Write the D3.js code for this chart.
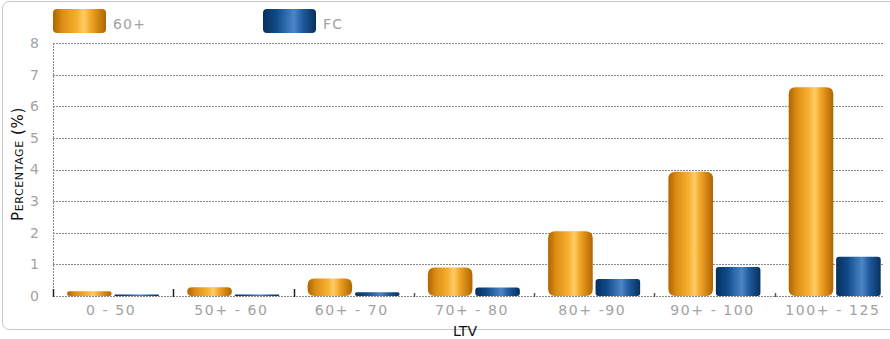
<!DOCTYPE html>
<html>
<head>
<meta charset="utf-8">
<script src="https://cdn.jsdelivr.net/npm/d3@7"></script>
<style>
  html, body { margin: 0; padding: 0; background: #fff; }
  svg { display: block; }
  text { font-family: "DejaVu Sans", Verdana, sans-serif; }
</style>
</head>
<body>
<svg id="chart" width="890" height="339"></svg>
<script>
// LTV buckets and the two series (percentages)
const categories = ["0 - 50", "50+ - 60", "60+ - 70", "70+ - 80", "80+ -90", "90+ - 100", "100+ - 125"];
const seriesNames = ["60+", "FC"];
const values60 = [0.15, 0.28, 0.55, 0.9, 2.05, 3.93, 6.6];
const valuesFC = [0.05, 0.05, 0.12, 0.27, 0.54, 0.92, 1.24];
const yTicks = [0, 1, 2, 3, 4, 5, 6, 7, 8];

const svg = d3.select("#chart");
const plot = { left: 53, right: 895, top: 43, bottom: 296 };
const labelGrey = "#a2a2a2";

// outer frame
svg.append("rect")
  .attr("x", 2.5).attr("y", 1.5)
  .attr("width", 905).attr("height", 328)
  .attr("rx", 7)
  .attr("fill", "#fff").attr("stroke", "#c8c8c8").attr("stroke-width", 1);

// gradients for the cylinder-like bars
const defs = svg.append("defs");
const gOr = defs.append("linearGradient").attr("id", "gradOrange")
  .attr("x1", "0%").attr("x2", "100%").attr("y1", "0%").attr("y2", "0%");
[["0%", "#b06400"], ["18%", "#dc8e14"], ["45%", "#f6b030"], ["58%", "#ffcc66"],
 ["72%", "#f0a424"], ["100%", "#b06400"]].forEach(([o, c]) =>
  gOr.append("stop").attr("offset", o).attr("stop-color", c));
const gBl = defs.append("linearGradient").attr("id", "gradBlue")
  .attr("x1", "0%").attr("x2", "100%").attr("y1", "0%").attr("y2", "0%");
[["0%", "#07305e"], ["25%", "#0f4a88"], ["58%", "#4a86c8"], ["75%", "#1e5a9c"],
 ["100%", "#07305e"]].forEach(([o, c]) =>
  gBl.append("stop").attr("offset", o).attr("stop-color", c));

// scales
const x0 = d3.scaleBand().domain(categories).range([plot.left, plot.right]).paddingInner(0).paddingOuter(0);
const x1 = d3.scaleBand().domain(seriesNames).range([14, 106]).paddingInner(0.06);
const y = d3.scaleLinear().domain([0, 8]).range([plot.bottom, plot.top]);

// gridlines
svg.append("g").selectAll("line").data(yTicks).join("line")
  .attr("x1", plot.left).attr("x2", 884)
  .attr("y1", d => Math.round(y(d)) + 0.5).attr("y2", d => Math.round(y(d)) + 0.5)
  .attr("stroke", "#8a8a8a").attr("stroke-width", 1)
  .attr("stroke-dasharray", "2,1");

// left axis line
svg.append("line")
  .attr("x1", plot.left + 0.5).attr("x2", plot.left + 0.5)
  .attr("y1", plot.top).attr("y2", plot.bottom)
  .attr("stroke", "#8a8a8a").attr("stroke-dasharray", "2,1");

// y tick labels
const yAxis = d3.axisLeft(y).tickValues(yTicks).tickSize(0).tickPadding(14).tickFormat(d3.format("d"));
const yg = svg.append("g").attr("transform", `translate(${plot.left},0)`).call(yAxis);
yg.select(".domain").remove();
yg.selectAll("text").attr("fill", labelGrey).attr("font-size", 14)
  .attr("font-family", "DejaVu Sans Condensed, DejaVu Sans, sans-serif");

// category boundary ticks
const bounds = categories.map(c => x0(c));
svg.append("g").selectAll("line").data(bounds).join("line")
  .attr("x1", d => Math.round(d) + 0.5).attr("x2", d => Math.round(d) + 0.5)
  .attr("y1", (d, i) => i < 3 ? 289 : 293).attr("y2", 297)
  .attr("stroke", (d, i) => i < 3 ? "#222" : "#555").attr("stroke-width", 1.5);

// bars
const rows = categories.map((c, i) => ({ cat: c, vals: [values60[i], valuesFC[i]] }));
function roundedBar(x, yTop, w, h, r) {
  r = Math.min(r, h / 2, w / 2);
  return `M${x},${yTop + r}Q${x},${yTop} ${x + r},${yTop}L${x + w - r},${yTop}Q${x + w},${yTop} ${x + w},${yTop + r}` +
         `L${x + w},${yTop + h - r}Q${x + w},${yTop + h} ${x + w - r},${yTop + h}L${x + r},${yTop + h}Q${x},${yTop + h} ${x},${yTop + h - r}Z`;
}
const groups = svg.append("g").selectAll("g").data(rows).join("g")
  .attr("transform", d => `translate(${x0(d.cat)},0)`);
groups.selectAll("path").data(d => d.vals.map((v, k) => ({ v, s: seriesNames[k], k })))
  .join("path")
  .attr("d", d => {
    const top = y(d.v), h = y(0) - top;
    return roundedBar(x1(d.s), top, x1.bandwidth(), h, d.k === 0 ? 7 : 3);
  })
  .attr("fill", d => d.k === 0 ? "url(#gradOrange)" : "url(#gradBlue)");

// x labels
const xAxis = d3.axisBottom(x0).tickSize(0).tickPadding(9);
const xg = svg.append("g").attr("transform", `translate(0,${plot.bottom})`).call(xAxis);
xg.select(".domain").remove();
xg.selectAll("text").attr("fill", labelGrey).attr("font-size", 14)
  .attr("letter-spacing", 1.6)
  .attr("font-family", "DejaVu Sans, sans-serif").attr("dx", -2);

// axis titles
svg.append("text").attr("x", 465).attr("y", 336).attr("text-anchor", "middle")
  .attr("font-family", "Liberation Sans, Arial, sans-serif")
  .attr("font-size", 14).attr("fill", "#111").text("LTV");
svg.append("text")
  .attr("transform", "translate(23,164) rotate(-90)")
  .attr("text-anchor", "middle").attr("font-size", 15).attr("fill", "#111")
  .attr("font-family", "Liberation Sans, Arial, sans-serif")
  .attr("letter-spacing", 0.6)
  .style("font-variant", "small-caps").text("Percentage (%)");

// legend
const legendX = [53, 263];
const legend = svg.append("g").selectAll("g").data(seriesNames).join("g")
  .attr("transform", (d, i) => `translate(${legendX[i]},9)`);
legend.append("rect").attr("width", 53).attr("height", 24).attr("rx", 4)
  .attr("fill", (d, i) => i === 0 ? "url(#gradOrange)" : "url(#gradBlue)");
legend.append("text").attr("x", 60).attr("y", 20).attr("font-size", 14)
  .attr("letter-spacing", 1.2)
  .attr("fill", labelGrey).text(d => d);
</script>
</body>
</html>
